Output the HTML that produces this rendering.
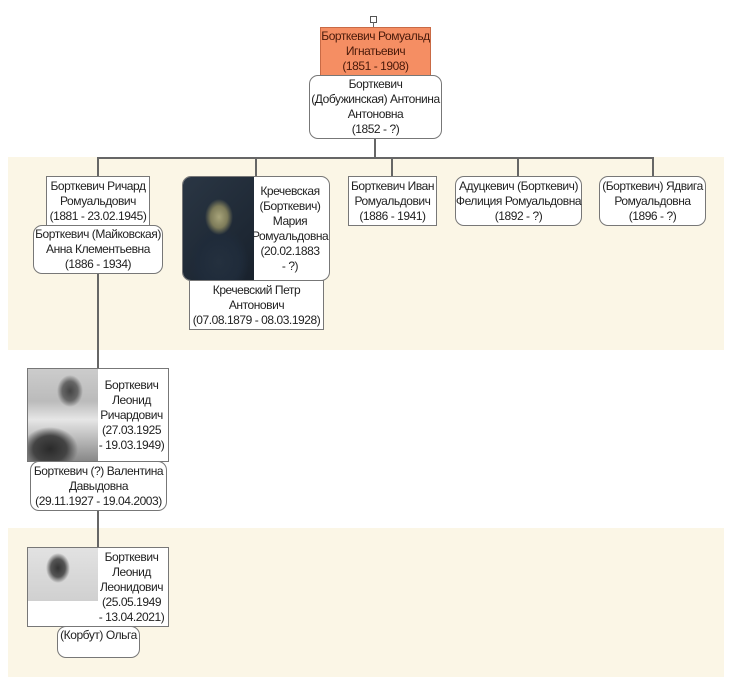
<!DOCTYPE html>
<html><head><meta charset="utf-8"><style>
body{margin:0;width:732px;height:687px;background:#fff;position:relative;overflow:hidden;font-family:"Liberation Sans","DejaVu Sans",sans-serif;font-size:12px;color:#222}
.band{position:absolute;background:#fbf6e6}
.l{position:absolute;background:#666}
.b{position:absolute;box-sizing:border-box;border:1px solid #777;background:#fff;display:flex;flex-direction:column;justify-content:center;align-items:center;text-align:center;line-height:15px;letter-spacing:-0.45px;white-space:nowrap}
.r{border-radius:9px}
.ph{position:absolute}
</style></head><body>
<div class="band" style="left:8px;top:157px;width:716px;height:193px"></div>
<div class="band" style="left:8px;top:528px;width:716px;height:149px"></div>

<div style="position:absolute;left:370px;top:16px;width:5px;height:5px;border:1px solid #555;background:#fff"></div>
<div class="l" style="left:373px;top:22px;width:1px;height:6px"></div>
<div class="l" style="left:374px;top:138px;width:2px;height:19px"></div>
<div class="l" style="left:97px;top:157px;width:557px;height:2px"></div>
<div class="l" style="left:97px;top:157px;width:2px;height:20px"></div>
<div class="l" style="left:255px;top:157px;width:2px;height:20px"></div>
<div class="l" style="left:391px;top:157px;width:2px;height:20px"></div>
<div class="l" style="left:517px;top:157px;width:2px;height:20px"></div>
<div class="l" style="left:652px;top:157px;width:2px;height:20px"></div>
<div class="l" style="left:97px;top:273px;width:2px;height:96px"></div>
<div class="l" style="left:97px;top:510px;width:2px;height:38px"></div>

<div class="b" style="left:320px;top:27px;width:111px;height:49px;background:#f58e63;border-color:#c96a45;color:#4a1a0a">Борткевич Ромуальд<br>Игнатьевич<br>(1851 - 1908)</div>
<div class="b r" style="left:309px;top:75px;width:133px;height:64px">Борткевич<br>(Добужинская) Антонина<br>Антоновна<br>(1852 - ?)</div>

<div class="b" style="left:46px;top:176px;width:104px;height:50px">Борткевич Ричард<br>Ромуальдович<br>(1881 - 23.02.1945)</div>
<div class="b r" style="left:33px;top:225px;width:130px;height:49px">Борткевич (Майковская)<br>Анна Клементьевна<br>(1886 - 1934)</div>

<div class="b r" style="left:182px;top:176px;width:148px;height:105px;align-items:flex-end;padding-right:1px;overflow:hidden">
<div class="ph" style="left:0;top:0;width:71px;height:105px;background:radial-gradient(ellipse 14px 18px at 36px 40px,#a8a47a 0,#7e7c5a 60%,transparent 100%),radial-gradient(ellipse 30px 35px at 36px 85px,#24303e 0,#1f2b3a 70%,transparent 100%),linear-gradient(135deg,#2a3644,#18212c)"></div>
<div style="width:76px">Кречевская<br>(Борткевич)<br>Мария<br>Ромуальдовна<br>(20.02.1883<br>- ?)</div></div>
<div class="b" style="left:189px;top:280px;width:135px;height:50px">Кречевский Петр<br>Антонович<br>(07.08.1879 - 08.03.1928)</div>

<div class="b" style="left:348px;top:176px;width:89px;height:50px">Борткевич Иван<br>Ромуальдович<br>(1886 - 1941)</div>
<div class="b r" style="left:455px;top:176px;width:127px;height:50px">Адуцкевич (Борткевич)<br>Фелиция Ромуальдовна<br>(1892 - ?)</div>
<div class="b r" style="left:599px;top:176px;width:107px;height:50px">(Борткевич) Ядвига<br>Ромуальдовна<br>(1896 - ?)</div>

<div class="b" style="left:27px;top:368px;width:142px;height:94px;align-items:flex-end;padding-right:1px">
<div class="ph" style="left:0;top:0;width:70px;height:92px;background:radial-gradient(ellipse 13px 16px at 42px 22px,#444 0,#666 60%,transparent 100%),radial-gradient(ellipse 28px 22px at 22px 80px,#2a2a2a 0,#444 60%,transparent 100%),linear-gradient(180deg,#ccc 0,#bbb 35%,#e6e6e6 55%,#888 100%)"></div>
<div style="width:71px">Борткевич<br>Леонид<br>Ричардович<br>(27.03.1925<br>- 19.03.1949)</div></div>
<div class="b r" style="left:30px;top:461px;width:137px;height:50px">Борткевич (?) Валентина<br>Давыдовна<br>(29.11.1927 - 19.04.2003)</div>

<div class="b" style="left:27px;top:547px;width:142px;height:80px;align-items:flex-end;padding-right:1px">
<div class="ph" style="left:0;top:0;width:70px;height:53px;background:radial-gradient(ellipse 12px 15px at 30px 20px,#333 0,#555 60%,transparent 100%),linear-gradient(180deg,#e2e2e2,#d0d0d0)"></div>
<div style="width:71px">Борткевич<br>Леонид<br>Леонидович<br>(25.05.1949<br>- 13.04.2021)</div></div>
<div class="b r" style="left:57px;top:626px;width:83px;height:32px;justify-content:flex-start;padding-top:1px">(Корбут) Ольга</div>
</body></html>
